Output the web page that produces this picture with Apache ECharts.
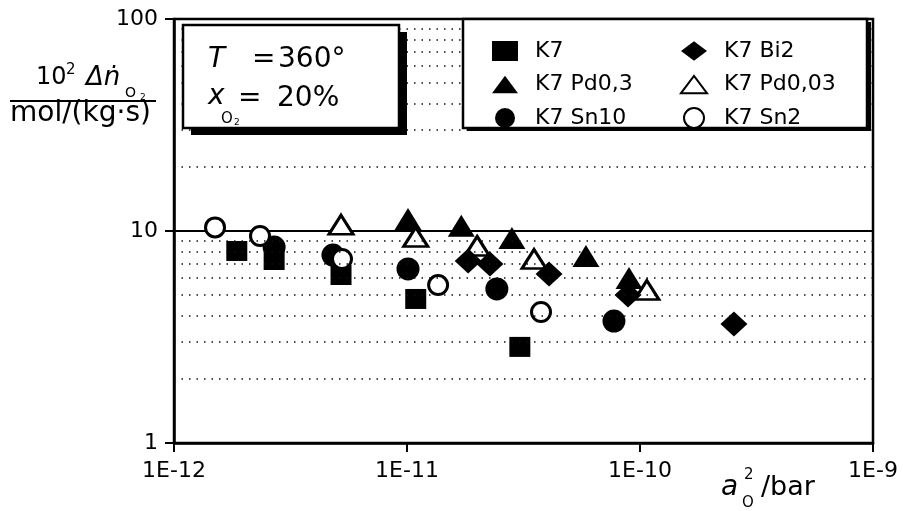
<!DOCTYPE html>
<html><head><meta charset="utf-8">
<script src="https://cdn.jsdelivr.net/npm/echarts@6/dist/echarts.min.js"></script>
<style>html,body{margin:0;padding:0;background:#fff}#c{width:903px;height:511px}</style>
</head><body><div id="c"></div>
<script>
// ---- data ----
const seriesNames = ['K7', 'K7 Bi2', 'K7 Pd0,3', 'K7 Pd0,03', 'K7 Sn10', 'K7 Sn2'];
const k7      = [[1.86e-12, 8.05], [2.69e-12, 7.30], [5.21e-12, 6.20], [1.09e-11, 4.78], [3.05e-11, 2.84]];
const k7Bi2   = [[1.83e-11, 7.22], [2.27e-11, 6.99], [4.07e-11, 6.27], [8.88e-11, 4.99], [2.53e-10, 3.64]];
const k7Pd03  = [[1.01e-11, 11.4], [1.71e-11, 10.6], [2.82e-11, 9.27], [5.86e-11, 7.62], [8.97e-11, 6.00]];
const k7Pd003 = [[5.21e-12, 10.7], [1.09e-11, 9.37], [2.00e-11, 8.50], [3.51e-11, 7.38], [1.07e-10, 5.27]];
const k7Sn10  = [[2.69e-12, 8.40], [4.81e-12, 7.70], [1.01e-11, 6.62], [2.43e-11, 5.33], [7.73e-11, 3.76]];
const k7Sn2   = [[1.50e-12, 10.4], [2.34e-12, 9.47], [5.26e-12, 7.38], [1.36e-11, 5.56], [3.76e-11, 4.15]];
const xRange = [1e-12, 1e-9];
const yRange = [1, 100];
const yMinorGrid = [2, 3, 4, 5, 6, 7, 8, 9, 20, 30, 40, 50, 60, 70, 80, 90];

const FF = "'DejaVu Sans', sans-serif";
const chart = echarts.init(document.getElementById('c'), null, {renderer: 'canvas'});

function txt(text, x, y, size, italic, z) {
  return {type: 'text', x: x, y: y, z: z || 102,
    style: {text: text, fill: '#000', fontFamily: FF, fontSize: size,
      fontStyle: italic ? 'italic' : 'normal', textAlign: 'left', textVerticalAlign: 'middle'}};
}
function shadowBox(x, y, w, h, dx, dy) {
  return [
    {type: 'rect', z: 100, shape: {x: x + dx, y: y + dy, width: w, height: h}, style: {fill: '#000'}},
    {type: 'rect', z: 101, shape: {x: x, y: y, width: w, height: h}, style: {fill: '#fff', stroke: '#000', lineWidth: 2.5}}
  ];
}

const triPath = 'path://M0,18L13.5,0L27,18Z';
const diaPath = 'path://M0,11L14.5,0L29,11L14.5,22Z';

const legendCommon = {
  orient: 'vertical', itemWidth: 26, itemHeight: 20, itemGap: 11.5, z: 200,
  selectedMode: false,
  textStyle: {fontFamily: FF, fontSize: 22, color: '#000', lineHeight: 20, padding: [0, 0, 0, 12]}
};

const option = {
  animation: false,
  backgroundColor: '#fff',
  grid: {left: 174, top: 19, right: 30, bottom: 68, show: true, borderColor: '#000', borderWidth: 2.5, backgroundColor: 'transparent'},
  xAxis: {
    type: 'log', logBase: 10, min: xRange[0], max: xRange[1], splitNumber: 3,
    axisLine: {show: true, lineStyle: {color: '#000', width: 2.5}},
    axisTick: {show: true, length: 9, lineStyle: {color: '#000', width: 2}},
    axisLabel: {color: '#000', fontFamily: FF, fontSize: 22, margin: 17,
      formatter: v => '1E' + Math.round(Math.log10(v))},
    splitLine: {show: false}, minorTick: {show: false}
  },
  yAxis: {
    type: 'log', logBase: 10, min: yRange[0], max: yRange[1], splitNumber: 2,
    axisLine: {show: true, lineStyle: {color: '#000', width: 2.5}},
    axisTick: {show: true, length: 9, lineStyle: {color: '#000', width: 2}},
    axisLabel: {color: '#000', fontFamily: FF, fontSize: 22, margin: 16,
      formatter: v => String(Math.round(v))},
    splitLine: {show: true, lineStyle: {color: '#000', width: 2, type: 'solid'}}
  },
  legend: [
    Object.assign({left: 487, top: 35, data: [
      {name: 'K7', icon: 'rect'},
      {name: 'K7 Pd0,3', icon: triPath},
      {name: 'K7 Sn10', icon: 'circle'}]}, legendCommon),
    Object.assign({left: 675, top: 35, data: [
      {name: 'K7 Bi2', icon: diaPath},
      {name: 'K7 Pd0,03', icon: triPath},
      {name: 'K7 Sn2', icon: 'circle'}]}, legendCommon)
  ],
  series: [
    {type: 'scatter', name: '_grid', data: [], z: 1, silent: true,
      markLine: {silent: true, symbol: ['none', 'none'], label: {show: false},
        lineStyle: {color: '#111', width: 1.5, type: [1.5, 6]},
        data: yMinorGrid.map(v => ({yAxis: v}))}},
    {type: 'scatter', name: seriesNames[0], data: k7, symbol: 'rect', symbolSize: [21, 20],
      itemStyle: {color: '#000', opacity: 1}},
    {type: 'scatter', name: seriesNames[3], data: k7Pd003, symbol: 'triangle', symbolSize: [24, 19],
      itemStyle: {color: '#fff', borderColor: '#000', borderWidth: 3, opacity: 1}},
    {type: 'scatter', name: seriesNames[1], data: k7Bi2, symbol: 'diamond', symbolSize: [27, 25],
      itemStyle: {color: '#000', opacity: 1}},
    {type: 'scatter', name: seriesNames[2], data: k7Pd03, symbol: 'triangle', symbolSize: [27, 22],
      itemStyle: {color: '#000', opacity: 1}},
    {type: 'scatter', name: seriesNames[4], data: k7Sn10, symbol: 'circle', symbolSize: 23,
      itemStyle: {color: '#000', opacity: 1}},
    {type: 'scatter', name: seriesNames[5], data: k7Sn2, symbol: 'circle', symbolSize: 19,
      itemStyle: {color: '#fff', borderColor: '#000', borderWidth: 3, opacity: 1}}
  ],
  graphic: [].concat(
    // text box (T, x_O2)
    shadowBox(183, 25, 216, 103, 8, 7),
    [
      txt('T', 208, 60, 28, true),
      txt('=', 252, 60, 28, false),
      txt('360°', 278, 60, 28, false),
      txt('x', 208, 97, 28, true),
      txt('O', 221, 119, 15, false),
      txt('2', 234, 123, 9, false),
      txt('=', 238, 99, 28, false),
      txt('20%', 277, 99, 28, false)
    ],
    // legend box
    shadowBox(463, 19, 404, 109, 4, 3),
    [
      // y-axis title
      txt('10', 36, 78, 24, false),
      txt('2', 66, 70, 15, false),
      txt('Δṅ', 86, 78, 26, true),
      txt('O', 125, 93, 14, false),
      txt('2', 140, 98, 9, false),
      {type: 'line', z: 101, shape: {x1: 10, y1: 101, x2: 156, y2: 101}, style: {stroke: '#000', lineWidth: 2}},
      txt('mol/(kg·s)', 10, 114, 28, false),
      // x-axis title
      txt('a', 721, 488, 28, true),
      txt('2', 744, 475, 15, false),
      txt('O', 742, 503, 15, false),
      txt('/bar', 761, 488, 27, false)
    ]
  )
};
chart.setOption(option);
</script></body></html>
